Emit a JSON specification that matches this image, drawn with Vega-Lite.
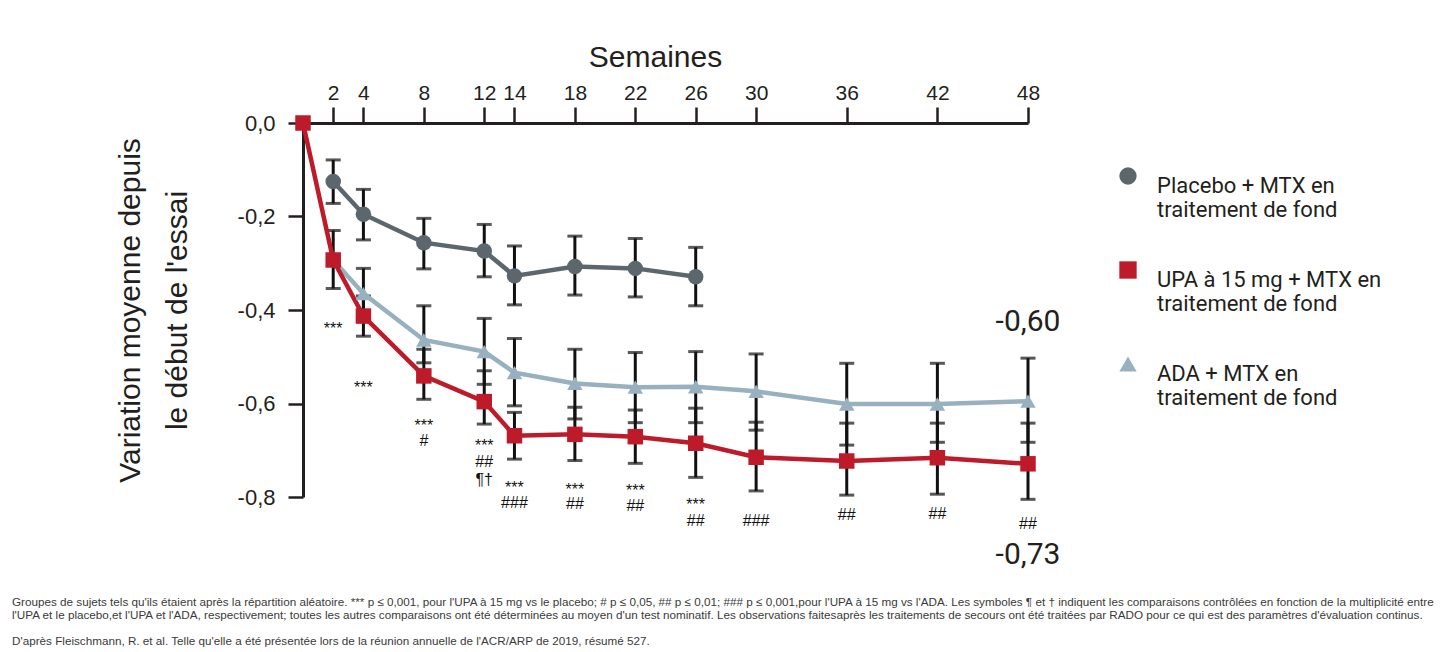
{
  "$schema": "https://vega.github.io/schema/vega-lite/v6.json",
  "autosize": {"type": "none"},
  "width": 725,
  "height": 374,
  "padding": {"left": 303, "top": 123, "right": 424, "bottom": 155},
  "background": "white",
  "config": {
    "view": {"stroke": null},
    "font": "Liberation Sans",
    "axis": {"domainColor": "#231f20", "domainWidth": 3, "tickColor": "#231f20", "tickWidth": 2.5, "labelColor": "#231f20", "titleColor": "#231f20", "grid": false, "titleFontWeight": "normal"}
  },
  "title": {
    "text": [
      "Groupes de sujets tels qu'ils étaient après la répartition aléatoire. *** p ≤ 0,001, pour l'UPA à 15 mg vs le placebo; # p ≤ 0,05, ## p ≤ 0,01; ### p ≤ 0,001,pour l'UPA à 15 mg vs l'ADA. Les symboles ¶ et † indiquent les comparaisons contrôlées en fonction de la multiplicité entre",
      "l'UPA et le placebo,et l'UPA et l'ADA, respectivement; toutes les autres comparaisons ont été déterminées au moyen d'un test nominatif. Les observations faitesaprès les traitements de secours ont été traitées par RADO pour ce qui est des paramètres d'évaluation continus."
    ],
    "subtitle": "D'après Fleischmann, R. et al. Telle qu'elle a été présentée lors de la réunion annuelle de l'ACR/ARP de 2019, résumé 527.",
    "orient": "bottom",
    "anchor": "start",
    "frame": "group",
    "dx": -291,
    "offset": 27,
    "font": "Liberation Sans",
    "fontSize": 11.7,
    "fontWeight": "normal",
    "color": "#3a3a3a",
    "lineHeight": 13,
    "subtitleFont": "Liberation Sans",
    "subtitleFontSize": 11.7,
    "subtitleColor": "#3a3a3a",
    "subtitlePadding": 14
  },
  "datasets": {
    "series": [
      {"group": "Placebo + MTX en traitement de fond", "week": 2, "value": -0.125, "lo": -0.172, "hi": -0.079},
      {"group": "Placebo + MTX en traitement de fond", "week": 4, "value": -0.195, "lo": -0.250, "hi": -0.142},
      {"group": "Placebo + MTX en traitement de fond", "week": 8, "value": -0.256, "lo": -0.312, "hi": -0.204},
      {"group": "Placebo + MTX en traitement de fond", "week": 12, "value": -0.274, "lo": -0.329, "hi": -0.217},
      {"group": "Placebo + MTX en traitement de fond", "week": 14, "value": -0.327, "lo": -0.389, "hi": -0.263},
      {"group": "Placebo + MTX en traitement de fond", "week": 18, "value": -0.307, "lo": -0.368, "hi": -0.242},
      {"group": "Placebo + MTX en traitement de fond", "week": 22, "value": -0.311, "lo": -0.372, "hi": -0.247},
      {"group": "Placebo + MTX en traitement de fond", "week": 26, "value": -0.329, "lo": -0.391, "hi": -0.266},
      {"group": "ADA + MTX en traitement de fond", "week": 2, "value": -0.293, "lo": null, "hi": null},
      {"group": "ADA + MTX en traitement de fond", "week": 4, "value": -0.365, "lo": -0.420, "hi": -0.311},
      {"group": "ADA + MTX en traitement de fond", "week": 8, "value": -0.464, "lo": -0.513, "hi": -0.391},
      {"group": "ADA + MTX en traitement de fond", "week": 12, "value": -0.489, "lo": -0.559, "hi": -0.418},
      {"group": "ADA + MTX en traitement de fond", "week": 14, "value": -0.534, "lo": -0.605, "hi": -0.461},
      {"group": "ADA + MTX en traitement de fond", "week": 18, "value": -0.557, "lo": -0.633, "hi": -0.484},
      {"group": "ADA + MTX en traitement de fond", "week": 22, "value": -0.565, "lo": -0.641, "hi": -0.491},
      {"group": "ADA + MTX en traitement de fond", "week": 26, "value": -0.564, "lo": -0.641, "hi": -0.489},
      {"group": "ADA + MTX en traitement de fond", "week": 30, "value": -0.574, "lo": -0.657, "hi": -0.494},
      {"group": "ADA + MTX en traitement de fond", "week": 36, "value": -0.601, "lo": -0.689, "hi": -0.514},
      {"group": "ADA + MTX en traitement de fond", "week": 42, "value": -0.601, "lo": -0.683, "hi": -0.514},
      {"group": "ADA + MTX en traitement de fond", "week": 48, "value": -0.595, "lo": -0.683, "hi": -0.503},
      {"group": "UPA à 15 mg + MTX en traitement de fond", "week": 0, "value": 0, "lo": null, "hi": null},
      {"group": "UPA à 15 mg + MTX en traitement de fond", "week": 2, "value": -0.293, "lo": -0.354, "hi": -0.230},
      {"group": "UPA à 15 mg + MTX en traitement de fond", "week": 4, "value": -0.413, "lo": -0.456, "hi": -0.370},
      {"group": "UPA à 15 mg + MTX en traitement de fond", "week": 8, "value": -0.541, "lo": -0.591, "hi": -0.484},
      {"group": "UPA à 15 mg + MTX en traitement de fond", "week": 12, "value": -0.596, "lo": -0.644, "hi": -0.530},
      {"group": "UPA à 15 mg + MTX en traitement de fond", "week": 14, "value": -0.669, "lo": -0.719, "hi": -0.619},
      {"group": "UPA à 15 mg + MTX en traitement de fond", "week": 18, "value": -0.666, "lo": -0.722, "hi": -0.608},
      {"group": "UPA à 15 mg + MTX en traitement de fond", "week": 22, "value": -0.671, "lo": -0.728, "hi": -0.614},
      {"group": "UPA à 15 mg + MTX en traitement de fond", "week": 26, "value": -0.685, "lo": -0.758, "hi": -0.610},
      {"group": "UPA à 15 mg + MTX en traitement de fond", "week": 30, "value": -0.715, "lo": -0.787, "hi": -0.640},
      {"group": "UPA à 15 mg + MTX en traitement de fond", "week": 36, "value": -0.723, "lo": -0.796, "hi": -0.642},
      {"group": "UPA à 15 mg + MTX en traitement de fond", "week": 42, "value": -0.716, "lo": -0.794, "hi": -0.642},
      {"group": "UPA à 15 mg + MTX en traitement de fond", "week": 48, "value": -0.729, "lo": -0.805, "hi": -0.642}
    ],
    "annot": [
      {"week": 2, "ypos": -0.4406, "label": "***"},
      {"week": 4, "ypos": -0.5668, "label": "***"},
      {"week": 8, "ypos": -0.6475, "label": "***"},
      {"week": 8, "ypos": -0.6796, "label": "#"},
      {"week": 12, "ypos": -0.6916, "label": "***"},
      {"week": 12, "ypos": -0.7258, "label": "##"},
      {"week": 12, "ypos": -0.7636, "label": "¶†"},
      {"week": 14, "ypos": -0.7807, "label": "***"},
      {"week": 14, "ypos": -0.8135, "label": "###"},
      {"week": 18, "ypos": -0.7844, "label": "***"},
      {"week": 18, "ypos": -0.8150, "label": "##"},
      {"week": 22, "ypos": -0.7865, "label": "***"},
      {"week": 22, "ypos": -0.8193, "label": "##"},
      {"week": 26, "ypos": -0.8178, "label": "***"},
      {"week": 26, "ypos": -0.8507, "label": "##"},
      {"week": 30, "ypos": -0.8507, "label": "###"},
      {"week": 36, "ypos": -0.8385, "label": "##"},
      {"week": 42, "ypos": -0.8370, "label": "##"},
      {"week": 48, "ypos": -0.8584, "label": "##"}
    ],
    "big": [
      {"week": 48, "ypos": -0.4257, "label": "-0,60"},
      {"week": 48, "ypos": -0.9241, "label": "-0,73"}
    ]
  },
  "encoding": {
    "x": {
      "field": "week",
      "type": "quantitative",
      "scale": {"domain": [0, 48], "nice": false, "zero": false},
      "axis": {
        "orient": "top",
        "title": "Semaines",
        "titleFont": "Liberation Sans",
        "titleFontSize": 30,
        "titlePadding": 10,
        "titleX": 352,
        "values": [2, 4, 8, 12, 14, 18, 22, 26, 30, 36, 42, 48],
        "labelFont": "Liberation Sans Narrow, Liberation Sans",
        "labelFontSize": 21,
        "labelPadding": 4,
        "tickSize": 16,
        "labelOverlap": false,
        "labelFlush": false
      }
    }
  },
  "layer": [
    {
      "data": {"name": "series"},
      "transform": [{"filter": "isValid(datum.lo)"}],
      "mark": {"type": "errorbar", "color": "#111111", "thickness": 3, "ticks": {"size": 15, "thickness": 3, "color": "#111111"}, "rule": {"strokeWidth": 3, "color": "#111111"}},
      "encoding": {
        "y": {
          "field": "hi",
          "type": "quantitative",
          "scale": {"domain": [-0.8, 0], "nice": false, "zero": false},
          "axis": {
            "title": ["Variation moyenne depuis", "le début de l'essai"],
            "titleFont": "Liberation Sans",
            "titleFontSize": 30,
            "titleLineHeight": 47,
            "titlePadding": 45,
            "values": [0, -0.2, -0.4, -0.6, -0.8],
            "labelExpr": "replace(replace(format(datum.value, '.1f'), '.', ','), '−', '-')",
            "labelFont": "Liberation Sans",
            "labelFontSize": 22,
            "labelPadding": 13,
            "tickSize": 15
          }
        },
        "y2": {"field": "lo"}
      }
    },
    {
      "data": {"name": "series"},
      "mark": {"type": "line", "strokeWidth": 4.5},
      "encoding": {
        "y": {"field": "value", "type": "quantitative"},
        "stroke": {
          "field": "group",
          "type": "nominal",
          "scale": {
            "domain": ["UPA à 15 mg + MTX en traitement de fond", "Placebo + MTX en traitement de fond", "ADA + MTX en traitement de fond"],
            "range": ["#bd1a2a", "#5b666d", "#97b1c0"]
          },
          "legend": null
        }
      }
    },
    {
      "data": {"name": "series"},
      "mark": {"type": "point", "filled": true, "opacity": 1, "size": 240},
      "encoding": {
        "y": {"field": "value", "type": "quantitative"},
        "color": {
          "field": "group",
          "type": "nominal",
          "scale": {
            "domain": ["Placebo + MTX en traitement de fond", "UPA à 15 mg + MTX en traitement de fond", "ADA + MTX en traitement de fond"],
            "range": ["#5b666d", "#bd1a2a", "#97b1c0"]
          },
          "legend": {
            "orient": "none",
            "legendX": 814,
            "legendY": 42,
            "title": null,
            "labelFont": "Roboto",
            "labelFontSize": 22,
            "labelColor": "#231f20",
            "labelLimit": 500,
            "symbolSize": 300,
            "symbolStrokeWidth": 0,
            "rowPadding": 38,
            "labelOffset": 18,
            "labelBaseline": "top",
            "labelExpr": "[slice(datum.label, 0, indexof(datum.label, ' traitement')), 'traitement de fond']"
          }
        },
        "shape": {
          "field": "group",
          "type": "nominal",
          "scale": {
            "domain": ["Placebo + MTX en traitement de fond", "UPA à 15 mg + MTX en traitement de fond", "ADA + MTX en traitement de fond"],
            "range": ["circle", "square", "triangle-up"]
          },
          "legend": {
            "orient": "none",
            "legendX": 814,
            "legendY": 42,
            "title": null,
            "labelFont": "Roboto",
            "labelFontSize": 22,
            "labelColor": "#231f20",
            "labelLimit": 500,
            "symbolSize": 300,
            "symbolStrokeWidth": 0,
            "rowPadding": 38,
            "labelOffset": 18,
            "labelBaseline": "top",
            "labelExpr": "[slice(datum.label, 0, indexof(datum.label, ' traitement')), 'traitement de fond']"
          }
        }
      }
    },
    {
      "data": {"name": "annot"},
      "mark": {"type": "text", "font": "Liberation Sans", "fontSize": 16, "color": "#111111", "baseline": "middle"},
      "encoding": {
        "y": {"field": "ypos", "type": "quantitative"},
        "text": {"field": "label"}
      }
    },
    {
      "data": {"name": "big"},
      "mark": {"type": "text", "font": "Roboto", "fontSize": 30, "color": "#231f20", "baseline": "middle"},
      "encoding": {
        "y": {"field": "ypos", "type": "quantitative"},
        "text": {"field": "label"}
      }
    }
  ]
}
